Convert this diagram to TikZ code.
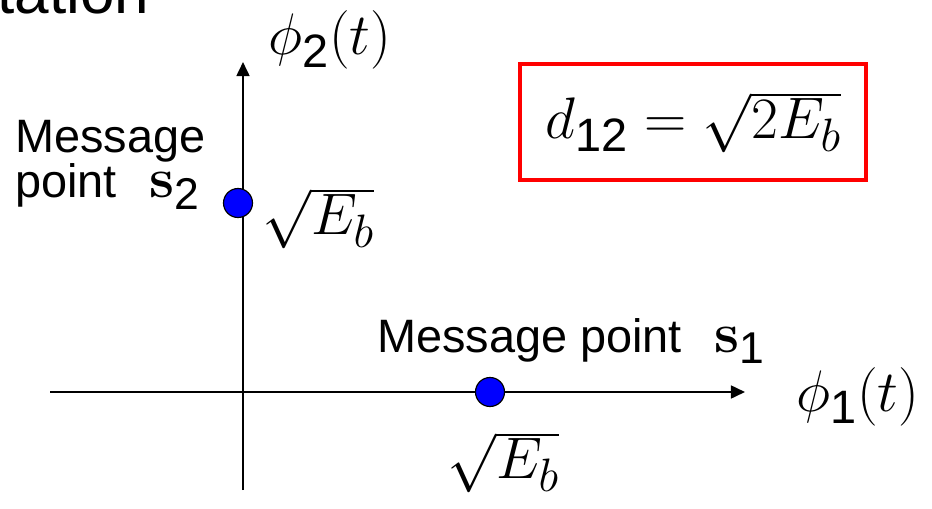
\RequirePackage{fix-cm}
\documentclass[tikz,border=0pt]{standalone}
\usepackage{amsmath}
\usepackage[no-math]{fontspec}
\setmainfont{Liberation Sans}
\usetikzlibrary{arrows.meta}
\DeclareMathSizes{50}{50}{40}{30}
\DeclareMathSizes{48}{48}{38}{29}
\newcommand{\dg}[1]{\text{#1}}
\newcommand{\msgpt}[1]{{\fontsize{48}{50}\selectfont$\mathbf{s}_{\dg{#1}}$}}

\begin{document}
\begin{tikzpicture}[x=0.03cm, y=-0.03cm,
    lbl/.style={font=\fontsize{40}{36}\selectfont, inner sep=0pt},
    mth/.style={font=\fontsize{50}{56}\selectfont, inner sep=0pt},
    axis/.style={line width=1.8pt, -{Triangle[length=12pt,width=11pt]}},
    msgdot/.style={circle, draw=black, fill=blue, line width=1pt,
        minimum size=0.87cm, inner sep=0pt},
    rbox/.style={draw=red, line width=3.4pt, minimum width=10.38cm,
        minimum height=3.48cm}]
    \useasboundingbox (0,0) rectangle (932,508);

    %% -- title (cut off) --
    \node[font=\fontsize{53}{60}\selectfont, inner sep=0pt, anchor=base west] (title) at (-3,14) {tation};

    %% -- axes --
    \coordinate (ybot) at (243,490);
    \coordinate (ytop) at (243,62);
    \coordinate (xlft) at (50,392);
    \coordinate (xrgt) at (745,392);
    \draw[axis] (ybot) -- (ytop);
    \draw[axis] (xlft) -- (xrgt);
    \node[mth] (phi2) at (330,40) {$\phi_{\dg{2}}(t)$};
    \node[mth] (phi1) at (858,397) {$\phi_{\dg{1}}(t)$};

    %% -- message points --
    \node[msgdot] (s1) at (490,392) {};
    \node[msgdot] (s2) at (238,203) {};
    \node[lbl, anchor=base west] (s1lbl) at (377,352) {Message point\hspace{0.7em}\msgpt{1}};
    \node[lbl, align=left, anchor=north west] (s2lbl) at (15,120) {Message\\point\hspace{0.7em}\msgpt{2}};
    \node[mth] (e1) at (503,462) {$\sqrt{E_b}$};
    \node[mth] (e2) at (318,218) {$\sqrt{E_b}$};

    %% -- distance --
    \node[rbox, mth] (dist) at (693,122) {$d_{\dg{12}} = \sqrt{2E_b}$};
\end{tikzpicture}
\end{document}
